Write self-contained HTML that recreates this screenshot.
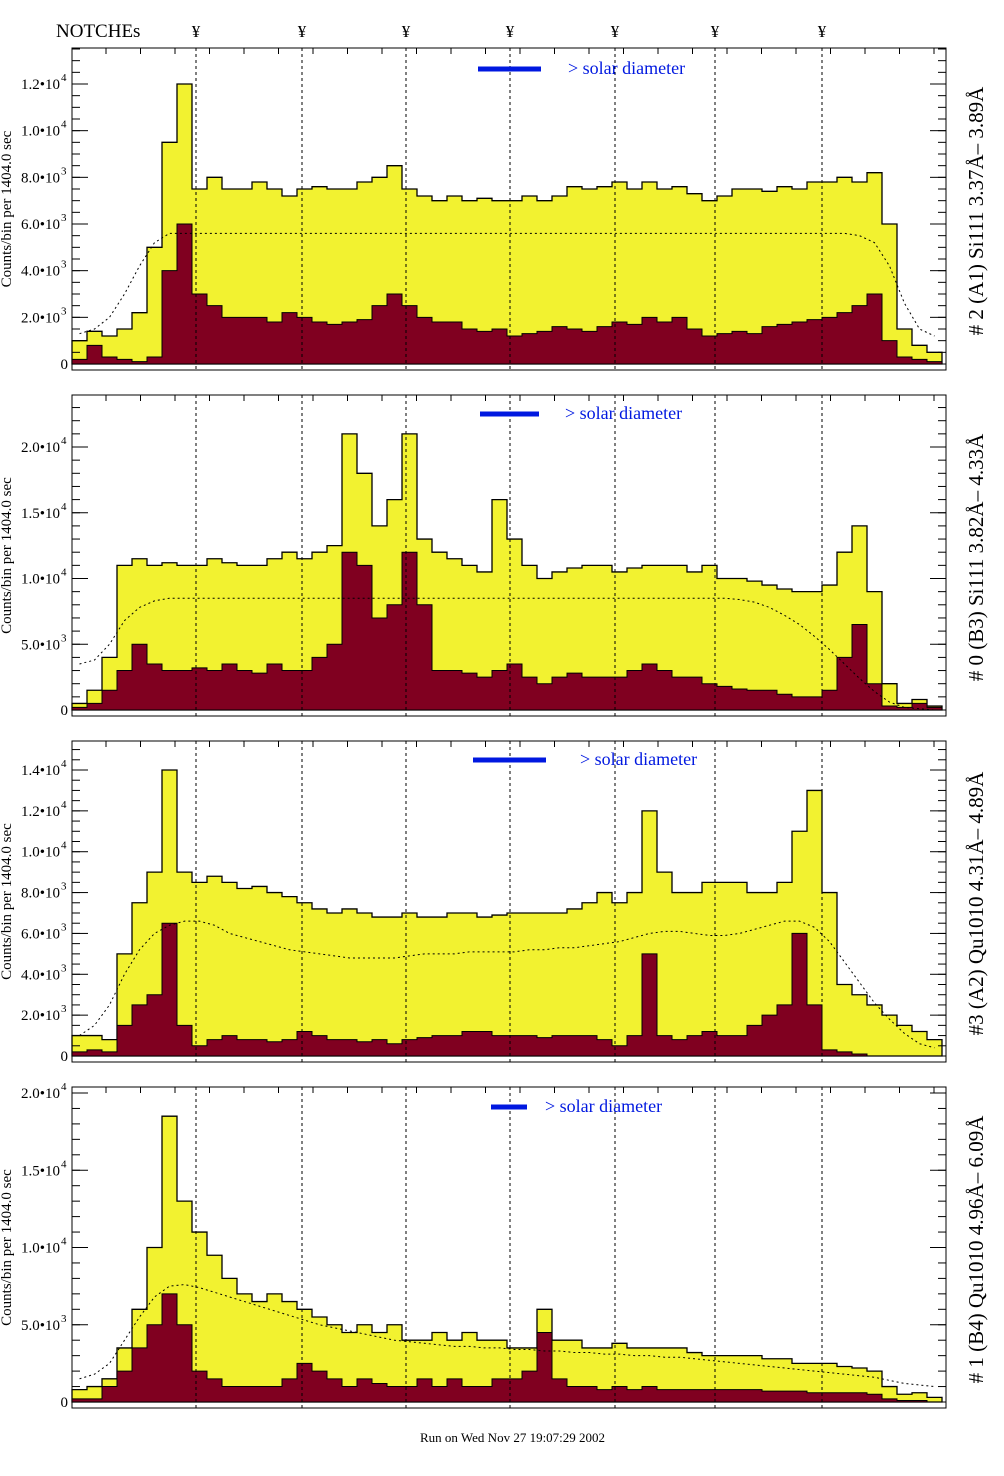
<!DOCTYPE html>
<html><head><meta charset="utf-8">
<style>
html,body{margin:0;padding:0;background:#fff;}
svg{display:block;font-family:"Liberation Serif",serif;}
</style></head>
<body>
<svg id="chart" width="1004" height="1476" viewBox="0 0 1004 1476" xmlns="http://www.w3.org/2000/svg">
<text x="56" y="37" font-size="19">NOTCHEs</text>
<text x="420" y="1442" font-size="13">Run on Wed Nov 27 19:07:29 2002</text>
</svg>
<script>
// ---- data (values in thousands of counts) ----
const notchX = [196, 302, 406, 510, 615, 715, 822];
const panelTitles = ["# 2 (A1) Si111  3.37Å\u2013 3.89Å", "# 0 (B3) Si111  3.82Å\u2013 4.33Å", "#3 (A2) Qu1010  4.31Å\u2013 4.89Å", "# 1 (B4) Qu1010 4.96Å\u2013 6.09Å"];
const p1Yellow = [1.0,1.4,1.2,1.5,2.2,5.0,9.5,12.0,7.5,8.0,7.5,7.5,7.8,7.5,7.2,7.5,7.6,7.5,7.5,7.8,8.0,8.5,7.5,7.2,7.0,7.2,7.0,7.1,7.0,7.0,7.2,7.0,7.2,7.6,7.5,7.6,7.8,7.5,7.8,7.5,7.6,7.3,7.0,7.2,7.5,7.5,7.4,7.6,7.5,7.8,7.8,8.0,7.8,8.2,6.0,1.5,0.8,0.5];
const p1Red = [0.2,0.8,0.3,0.2,0.1,0.3,4.0,6.0,3.0,2.5,2.0,2.0,2.0,1.8,2.2,2.0,1.8,1.7,1.8,1.9,2.5,3.0,2.5,2.0,1.8,1.8,1.5,1.4,1.5,1.2,1.3,1.4,1.6,1.5,1.4,1.6,1.8,1.7,2.0,1.8,2.0,1.5,1.2,1.3,1.4,1.3,1.6,1.7,1.8,1.9,2.0,2.2,2.5,3.0,1.0,0.3,0.2,0.1];
const p1Model = [1.3,1.5,2.0,3.0,4.2,5.2,5.6,5.6,5.6,5.6,5.6,5.6,5.6,5.6,5.6,5.6,5.6,5.6,5.6,5.6,5.6,5.6,5.6,5.6,5.6,5.6,5.6,5.6,5.6,5.6,5.6,5.6,5.6,5.6,5.6,5.6,5.6,5.6,5.6,5.6,5.6,5.6,5.6,5.6,5.6,5.6,5.6,5.6,5.6,5.6,5.6,5.6,5.5,5.2,4.2,2.6,1.5,1.2];
const p2Yellow = [0.5,1.5,4.0,11.0,11.5,11.0,11.2,11.0,11.0,11.5,11.2,11.0,11.0,11.5,12.0,11.5,12.0,12.5,21.0,18.0,14.0,16.0,21.0,13.0,12.0,11.5,11.0,10.5,16.0,13.0,11.0,10.0,10.5,10.8,11.0,11.0,10.5,10.8,11.0,11.0,11.0,10.5,11.0,10.0,10.0,9.8,9.5,9.2,9.0,9.0,9.5,12.0,14.0,9.0,2.0,0.5,0.8,0.3];
const p2Red = [0.2,0.5,1.5,3.0,5.0,3.5,3.0,3.0,3.2,3.0,3.5,3.0,2.8,3.5,3.0,3.0,4.0,5.0,12.0,11.0,7.0,8.0,12.0,8.0,3.0,3.0,2.8,2.5,3.0,3.5,2.5,2.0,2.5,2.8,2.5,2.5,2.5,3.0,3.5,3.0,2.5,2.5,2.0,1.8,1.6,1.5,1.5,1.2,1.0,1.0,1.5,4.0,6.5,2.0,0.3,0.2,0.5,0.2];
const p2Model = [3.5,3.8,5.0,6.8,7.8,8.3,8.5,8.5,8.5,8.5,8.5,8.5,8.5,8.5,8.5,8.5,8.5,8.5,8.5,8.5,8.5,8.5,8.5,8.5,8.5,8.5,8.5,8.5,8.5,8.5,8.5,8.5,8.5,8.5,8.5,8.5,8.5,8.5,8.5,8.5,8.5,8.5,8.5,8.5,8.4,8.2,7.8,7.2,6.5,5.6,4.6,3.5,2.4,1.4,0.6,0.2,0.1,0.0];
const p3Yellow = [1.0,1.0,0.8,5.0,7.5,9.0,14.0,9.0,8.5,8.8,8.5,8.2,8.3,8.0,7.8,7.5,7.2,7.0,7.2,7.0,6.8,6.8,7.0,6.8,6.8,7.0,7.0,6.8,6.9,7.0,7.0,7.0,7.0,7.2,7.5,8.0,7.5,8.0,12.0,9.0,8.0,8.0,8.5,8.5,8.5,8.0,8.0,8.5,11.0,13.0,8.0,3.5,3.0,2.5,2.0,1.5,1.2,0.8];
const p3Red = [0.2,0.3,0.2,1.5,2.5,3.0,6.5,1.5,0.5,0.8,1.0,0.8,0.8,0.7,0.8,1.2,1.0,0.8,0.8,0.7,0.8,0.6,0.8,0.9,1.0,1.0,1.2,1.2,1.0,1.0,1.0,0.9,1.0,1.0,1.0,0.8,0.5,1.0,5.0,1.0,0.8,1.0,1.2,1.0,1.0,1.5,2.0,2.5,6.0,2.5,0.3,0.2,0.1,0,0,0,0,0];
const p3Model = [1.0,1.5,2.5,4.0,5.2,6.0,6.4,6.6,6.6,6.4,6.0,5.8,5.6,5.4,5.2,5.1,5.0,4.9,4.8,4.8,4.8,4.8,4.9,5.0,5.0,5.0,5.1,5.1,5.1,5.1,5.2,5.2,5.3,5.3,5.4,5.5,5.6,5.8,6.0,6.1,6.1,6.0,5.9,5.9,6.0,6.2,6.4,6.6,6.6,6.3,5.6,4.6,3.6,2.6,1.8,1.1,0.6,0.4];
const p4Yellow = [0.8,1.0,1.5,3.5,6.0,10.0,18.5,13.0,11.0,9.5,8.0,7.0,6.5,7.0,6.5,6.0,5.5,5.0,4.5,5.0,4.5,5.0,4.0,4.0,4.5,4.0,4.5,4.0,4.0,3.5,3.5,6.0,4.0,4.0,3.5,3.5,3.8,3.5,3.5,3.5,3.5,3.2,3.0,3.0,3.0,3.0,2.8,2.8,2.5,2.5,2.5,2.3,2.2,2.0,1.0,0.5,0.6,0.3];
const p4Red = [0.2,0.2,1.0,2.0,3.5,5.0,7.0,5.0,2.0,1.5,1.0,1.0,1.0,1.0,1.5,2.5,2.0,1.5,1.0,1.5,1.2,1.0,1.0,1.5,1.0,1.5,1.0,1.0,1.5,1.5,2.0,4.5,1.5,1.0,1.0,0.8,1.0,0.8,1.0,0.8,0.8,0.8,0.8,0.8,0.8,0.8,0.7,0.7,0.7,0.6,0.6,0.6,0.6,0.5,0.2,0.1,0.1,0];
const p4Model = [1.5,1.8,2.5,4.0,5.5,6.8,7.5,7.6,7.4,7.1,6.8,6.5,6.2,5.9,5.6,5.3,5.0,4.8,4.6,4.4,4.2,4.0,3.9,3.8,3.7,3.6,3.6,3.5,3.5,3.4,3.4,3.3,3.3,3.2,3.2,3.1,3.1,3.0,3.0,2.9,2.9,2.8,2.7,2.6,2.5,2.4,2.3,2.2,2.1,2.0,1.9,1.8,1.7,1.6,1.4,1.2,1.1,1.0];
const p1Ticks = [0,2,4,6,8,10,12];
const p2Ticks = [0,5,10,15,20];
const p3Ticks = [0,2,4,6,8,10,12,14];
const p4Ticks = [0,5,10,15,20];
const tickLabels1 = ["0","2.0•10","4.0•10","6.0•10","8.0•10","1.0•10","1.2•10"];
const tickExp1 = ["","3","3","3","3","4","4"];
const tickLabels2 = ["0","5.0•10","1.0•10","1.5•10","2.0•10"];
const tickExp2 = ["","3","4","4","4"];
const tickLabels3 = ["0","2.0•10","4.0•10","6.0•10","8.0•10","1.0•10","1.2•10","1.4•10"];
const tickExp3 = ["","3","3","3","3","4","4","4"];
const tickLabels4 = ["0","5.0•10","1.0•10","1.5•10","2.0•10"];
const tickExp4 = tickExp2;

const svg = document.getElementById('chart');
const NS = 'http://www.w3.org/2000/svg';
function mk(tag, attrs, parent){ const e=document.createElementNS(NS,tag); for(const k in attrs) e.setAttribute(k,attrs[k]); (parent||svg).appendChild(e); return e; }

const X0 = 72, X1 = 946, BW = 15;
function xScale(i){ return X0 + i*BW; }

notchX.forEach(function(x){
  const t = mk('text',{x:x,y:37,'font-size':17,'text-anchor':'middle'});
  t.textContent='¥';
  
  
});

const panels = [
 {top:48,bot:370,zero:364,topTick:84,max:12,yellow:p1Yellow,red:p1Red,model:p1Model,ticks:p1Ticks,labels:tickLabels1,exp:tickExp1,bar:[478,541],barY:69,sd:568},
 {top:395,bot:716,zero:710,topTick:447,max:20,yellow:p2Yellow,red:p2Red,model:p2Model,ticks:p2Ticks,labels:tickLabels2,exp:tickExp2,bar:[480,539],barY:414,sd:565},
 {top:741,bot:1062,zero:1056,topTick:770,max:14,yellow:p3Yellow,red:p3Red,model:p3Model,ticks:p3Ticks,labels:tickLabels3,exp:tickExp3,bar:[473,546],barY:760,sd:580},
 {top:1087,bot:1408,zero:1402,topTick:1093,max:20,yellow:p4Yellow,red:p4Red,model:p4Model,ticks:p4Ticks,labels:tickLabels4,exp:tickExp4,bar:[491,527],barY:1107,sd:545}
];

panels.forEach(function(p, pi){
  const g = mk('g',{});
  
  
  const pxPer = (p.zero - p.topTick) / p.max;
  function yScale(v){ return p.zero - v*pxPer; }
  function histPath(arr){
    let d='M'+xScale(0)+','+p.zero;
    arr.forEach(function(v,i){ d+=' L'+xScale(i)+','+yScale(v)+' L'+xScale(i+1)+','+yScale(v); });
    d+=' L'+xScale(arr.length)+','+p.zero+' Z';
    return d;
  }
  const yel = mk('path',{d:histPath(p.yellow),fill:'#f2f230',stroke:'#000','stroke-width':1.3},g);
  
  
  const red = mk('path',{d:histPath(p.red),fill:'#800020',stroke:'#000','stroke-width':1},g);
  
  
  let md='';
  p.model.forEach(function(v,i){ md+=(i?' L':'M')+(xScale(i)+BW/2)+','+yScale(v); });
  const ml = mk('path',{d:md,fill:'none',stroke:'#000','stroke-width':1,'stroke-dasharray':'2,3'},g);
  
  
  notchX.forEach(function(x){
    const l = mk('line',{x1:x,x2:x,y1:p.top,y2:p.bot,stroke:'#000','stroke-width':1,'stroke-dasharray':'3,3'},g);
    
    
  });
  const fr = mk('rect',{x:X0,y:p.top,width:X1-X0,height:p.bot-p.top,fill:'none',stroke:'#000','stroke-width':1},g);
  
  
  const step = p.ticks[1]-p.ticks[0];
  for(let v=0; yScale(v)>=p.top; v+=step/(pi===0||pi===2?4:5)){
    const y=yScale(v);
    mk('line',{x1:X0,x2:X0+8,y1:y,y2:y,stroke:'#000','stroke-width':1},g);
    mk('line',{x1:X1,x2:X1-8,y1:y,y2:y,stroke:'#000','stroke-width':1},g);
  }
  p.ticks.forEach(function(v,i){
    const y=yScale(v);
    mk('line',{x1:X0,x2:X0+16,y1:y,y2:y,stroke:'#000','stroke-width':1},g);
    mk('line',{x1:X1,x2:X1-16,y1:y,y2:y,stroke:'#000','stroke-width':1},g);
    const t=mk('text',{x:p.exp[i]?60:68,y:y+5,'font-size':15,'text-anchor':'end'},g);
    t.textContent=p.labels[i];
    
    
    if(p.exp[i]){ const s=mk('text',{x:61,y:y-3,'font-size':11},g); s.textContent=p.exp[i]; }
  });
  for(let x=X0+34; x<X1; x+=34.5){
    mk('line',{x1:x,x2:x,y1:p.top,y2:p.top+6,stroke:'#000','stroke-width':1},g);
  }
  const b=mk('line',{x1:p.bar[0],x2:p.bar[1],y1:p.barY,y2:p.barY,stroke:'#0018e0','stroke-width':5},g);
  
  
  const sd=mk('text',{x:p.sd,y:p.barY+5,'font-size':18,fill:'#0018e0'},g);
  sd.textContent='> solar diameter';
  
  
  const cy=(p.top+p.bot)/2;
  const yl=mk('text',{x:0,y:0,'font-size':15,'text-anchor':'middle',transform:'translate(11,'+cy+') rotate(-90)'},g);
  yl.textContent='Counts/bin per   1404.0 sec';
  
  
  const rt=mk('text',{x:0,y:0,'font-size':21,'text-anchor':'middle',transform:'translate(983,'+(cy+2)+') rotate(-90)'},g);
  rt.textContent=panelTitles[pi];
  
  
});
</script>
</body></html>
